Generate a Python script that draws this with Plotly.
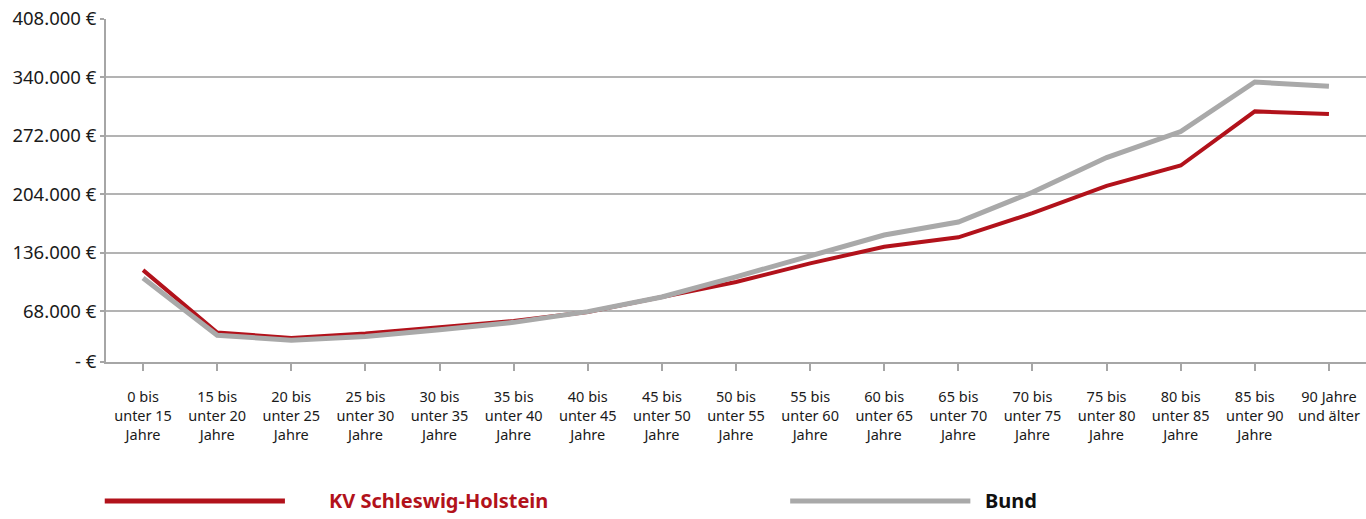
import plotly.graph_objects as go

categories = [
    "0 bis<br>unter 15<br>Jahre", "15 bis<br>unter 20<br>Jahre", "20 bis<br>unter 25<br>Jahre",
    "25 bis<br>unter 30<br>Jahre", "30 bis<br>unter 35<br>Jahre", "35 bis<br>unter 40<br>Jahre",
    "40 bis<br>unter 45<br>Jahre", "45 bis<br>unter 50<br>Jahre", "50 bis<br>unter 55<br>Jahre",
    "55 bis<br>unter 60<br>Jahre", "60 bis<br>unter 65<br>Jahre", "65 bis<br>unter 70<br>Jahre",
    "70 bis<br>unter 75<br>Jahre", "75 bis<br>unter 80<br>Jahre", "80 bis<br>unter 85<br>Jahre",
    "85 bis<br>unter 90<br>Jahre", "90 Jahre<br>und älter",
]

kv_sh = [115800, 43200, 36900, 42000, 49200, 56500, 67000, 84000, 102000, 123600,
         143000, 154000, 182000, 213800, 237500, 300500, 297400]
bund = [106500, 40000, 34200, 38500, 46500, 55000, 67500, 84500, 108000, 132000,
        156600, 171800, 206400, 246800, 277100, 334700, 329600]

y_bottom = 8870
tick_vals = [y_bottom, 68000, 136000, 204000, 272000, 340000, 408000]
tick_text = ["- €", "68.000 €", "136.000 €", "204.000 €", "272.000 €", "340.000 €", "408.000 €"]

series_names = ["KV Schleswig-Holstein", "Bund"]
red = "#b2121b"
grey = "#a9a9a9"
axis_grey = "#a6a6a6"
font = "Noto Sans"

fig = go.Figure()
fig.add_trace(go.Scatter(x=categories, y=kv_sh, mode="lines", name=series_names[0],
                         line=dict(color=red, width=4), showlegend=False))
fig.add_trace(go.Scatter(x=categories, y=bund, mode="lines", name=series_names[1],
                         line=dict(color=grey, width=5), showlegend=False))

fig.update_layout(
    width=1366, height=519,
    margin=dict(l=106, r=0, t=19, b=157),
    paper_bgcolor="white", plot_bgcolor="white",
    font=dict(family=font, color="#1a1a1a"),
    xaxis=dict(
        type="category", range=[-0.5, len(categories) - 0.5], automargin=False,
        showline=True, linecolor=axis_grey, linewidth=2,
        ticks="outside", ticklen=7, tickwidth=2, tickcolor=axis_grey,
        showgrid=False, tickfont=dict(size=14.5, family=font, color="#1a1a1a"),
        ticklabelstandoff=14, tickangle=0,
    ),
    yaxis=dict(
        range=[y_bottom, 408000], tickvals=tick_vals, ticktext=tick_text, automargin=False,
        showline=True, linecolor=axis_grey, linewidth=2,
        showgrid=True, gridcolor="#b3b3b3", gridwidth=1.5,
        ticks="outside", ticklen=4, tickwidth=1.5, tickcolor=axis_grey,
        tickfont=dict(size=18.5, family=font, color="#1a1a1a"),
        ticklabelstandoff=0,
        zeroline=False,
    ),
)

# custom legend below the chart
fig.add_shape(type="line", xref="paper", yref="paper", x0=-0.001, x1=0.142, y0=-0.405, y1=-0.405,
              line=dict(color=red, width=5))
fig.add_annotation(xref="paper", yref="paper", x=0.264, y=-0.405, text="<b>KV Schleswig-Holstein</b>",
                   showarrow=False, font=dict(size=20, color=red, family=font), xanchor="center", yanchor="middle")
fig.add_shape(type="line", xref="paper", yref="paper", x0=0.543, x1=0.686, y0=-0.405, y1=-0.405,
              line=dict(color=grey, width=5))
fig.add_annotation(xref="paper", yref="paper", x=0.718, y=-0.405, text="<b>Bund</b>",
                   showarrow=False, font=dict(size=20, color="#111111", family=font), xanchor="center", yanchor="middle")

fig.write_html("out.html", config={"displayModeBar": False},
               post_script="document.body.style.margin='0';document.body.style.overflow='hidden';")
